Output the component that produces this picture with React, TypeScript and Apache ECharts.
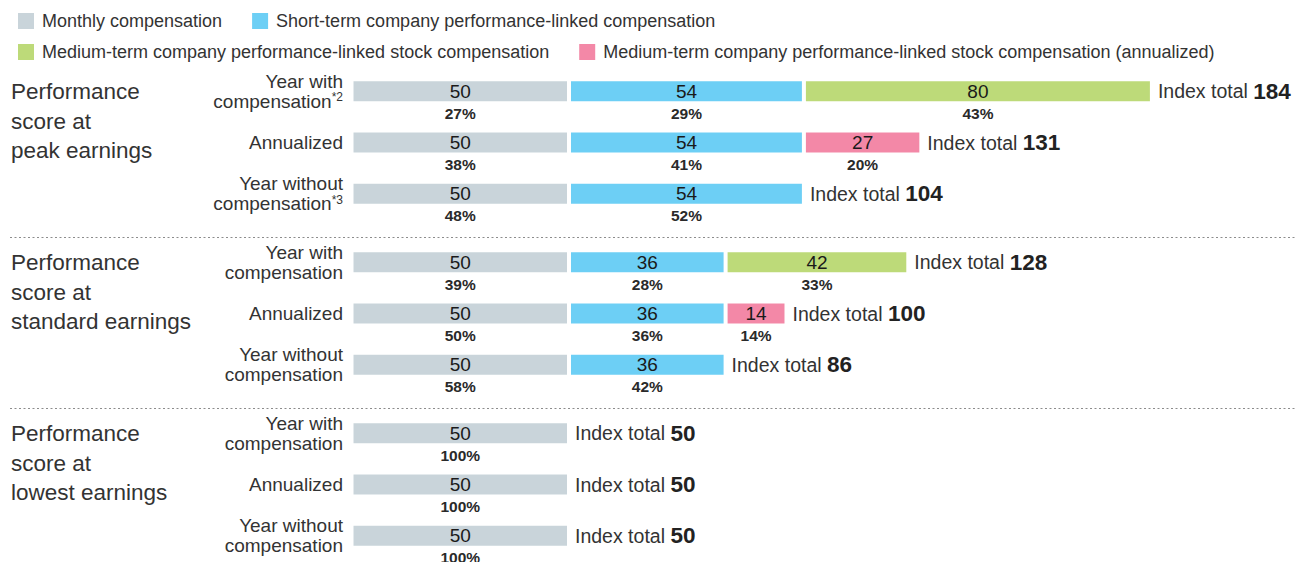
import React, { useEffect, useRef } from "react";
import * as echarts from "echarts";

const groupTitles = [
  "Performance\nscore at\npeak earnings",
  "Performance\nscore at\nstandard earnings",
  "Performance\nscore at\nlowest earnings",
];
const rowLabels = [
  "Year with\ncompensation*2",
  "Annualized",
  "Year without\ncompensation*3",
  "Year with\ncompensation",
  "Annualized",
  "Year without\ncompensation",
  "Year with\ncompensation",
  "Annualized",
  "Year without\ncompensation",
];
const seriesNames = [
  "Monthly compensation",
  "Short-term company performance-linked compensation",
  "Medium-term company performance-linked stock compensation",
  "Medium-term company performance-linked stock compensation (annualized)",
];
const monthly = [50, 50, 50, 50, 50, 50, 50, 50, 50];
const shortTerm = [54, 54, 54, 36, 36, 36, null, null, null];
const mediumStock = [80, null, null, 42, null, null, null, null, null];
const mediumAnnualized = [null, 27, null, null, 14, null, null, null, null];
const monthlyPct = [27, 38, 48, 39, 50, 58, 100, 100, 100];
const shortTermPct = [29, 41, 52, 28, 36, 42, null, null, null];
const mediumStockPct = [43, null, null, 33, null, null, null, null, null];
const mediumAnnualizedPct = [null, 20, null, null, 14, null, null, null, null];
const indexTotals = [184, 131, 104, 128, 100, 86, 50, 50, 50];

const seriesValues = [monthly, shortTerm, mediumStock, mediumAnnualized];
const seriesPcts = [monthlyPct, shortTermPct, mediumStockPct, mediumAnnualizedPct];
const colors = ["#c9d4da", "#6dcff5", "#bdda79", "#f388a7"];
const FONT = "'Liberation Sans', Arial, sans-serif";
const TEXT = "#333333";

export default function App() {
  const ref = useRef<HTMLDivElement>(null);

  useEffect(() => {
    if (!ref.current) return;
    const chart = echarts.init(ref.current, undefined, { renderer: "svg" });

    const groups = [0, 1, 2];
    const GRID_TOP = 65.5;
    const GROUP_STEP = 171;

    const grid = groups.map((g) => ({
      left: 351.5,
      width: 870,
      top: GRID_TOP + g * GROUP_STEP,
      height: 154,
    }));
    const xAxis = groups.map((g) => ({
      type: "value",
      gridIndex: g,
      min: 0,
      max: 200,
      show: false,
    }));
    const yAxis = groups.map((g) => ({
      type: "category",
      gridIndex: g,
      inverse: true,
      data: rowLabels.slice(g * 3, g * 3 + 3),
      axisLine: { show: false },
      axisTick: { show: false },
      splitLine: { show: false },
      axisLabel: {
        margin: 8.5,
        fontSize: 19,
        lineHeight: 20,
        color: TEXT,
        fontFamily: FONT,
        formatter: (v: string) => v.replace(/\*(\d)/, "{sup|*$1}"),
        rich: {
          sup: { fontSize: 12, lineHeight: 20, verticalAlign: "top", color: TEXT, fontFamily: FONT },
        },
      },
    }));

    const series: any[] = [];
    groups.forEach((g) => {
      seriesValues.forEach((vals, s) => {
        const pcts = seriesPcts[s];
        series.push({
          type: "bar",
          name: seriesNames[s],
          xAxisIndex: g,
          yAxisIndex: g,
          stack: "g" + g,
          barWidth: 24,
          data: vals.slice(g * 3, g * 3 + 3),
          itemStyle: { color: colors[s], borderColor: "#ffffff", borderWidth: 2 },
          label: {
            show: true,
            position: "inside",
            offset: [0, 11],
            formatter: (p: any) => `{v|${p.value}}\n{p|${pcts[g * 3 + p.dataIndex]}%}`,
            rich: {
              v: { fontSize: 19, color: "#1a1a1a", lineHeight: 22, fontFamily: FONT },
              p: { fontSize: 15.5, fontWeight: "bold", color: "#2a2a2a", lineHeight: 22, fontFamily: FONT },
            },
          },
        });
      });
      series.push({
        type: "bar",
        name: "total",
        xAxisIndex: g,
        yAxisIndex: g,
        stack: "g" + g,
        barWidth: 24,
        silent: true,
        data: indexTotals.slice(g * 3, g * 3 + 3).map(() => 0),
        itemStyle: { color: "rgba(0,0,0,0)", borderWidth: 0 },
        label: {
          show: true,
          position: "right",
          distance: 6,
          formatter: (p: any) => `{t|Index total }{n|${indexTotals[g * 3 + p.dataIndex]}}`,
          rich: {
            t: { fontSize: 19.5, color: TEXT, fontFamily: FONT },
            n: { fontSize: 22.5, fontWeight: "bold", color: "#222222", fontFamily: FONT },
          },
        },
      });
    });

    const legendCommon = {
      left: 13,
      itemWidth: 16,
      itemHeight: 16,
      itemGap: 30,
      icon: "rect",
      selectedMode: false,
      itemStyle: { borderWidth: 0 },
      textStyle: { fontSize: 18, color: TEXT, fontFamily: FONT, padding: [0, 0, 0, 3] },
    };

    const graphic: any[] = [];
    groups.forEach((g) => {
      graphic.push({
        type: "text",
        left: 11,
        top: 77 + g * GROUP_STEP,
        style: {
          text: groupTitles[g],
          fontSize: 22.5,
          lineHeight: 29.5,
          fill: TEXT,
          fontFamily: FONT,
        },
      });
    });
    [237.5, 408.5].forEach((y) => {
      graphic.push({
        type: "line",
        shape: { x1: 10, y1: y, x2: 1296, y2: y },
        style: { stroke: "#8c8c8c", lineWidth: 1, lineDash: [2, 2.5] },
      });
    });

    chart.setOption({
      animation: false,
      backgroundColor: "#ffffff",
      textStyle: { fontFamily: FONT },
      legend: [
        { ...legendCommon, top: 7, data: seriesNames.slice(0, 2) },
        { ...legendCommon, top: 38, data: seriesNames.slice(2) },
      ],
      grid,
      xAxis,
      yAxis,
      series,
      graphic,
    });

    return () => chart.dispose();
  }, []);

  return (
    <div
      ref={ref}
      style={{ position: "fixed", left: 0, top: 0, width: 1296, height: 562 }}
    />
  );
}
